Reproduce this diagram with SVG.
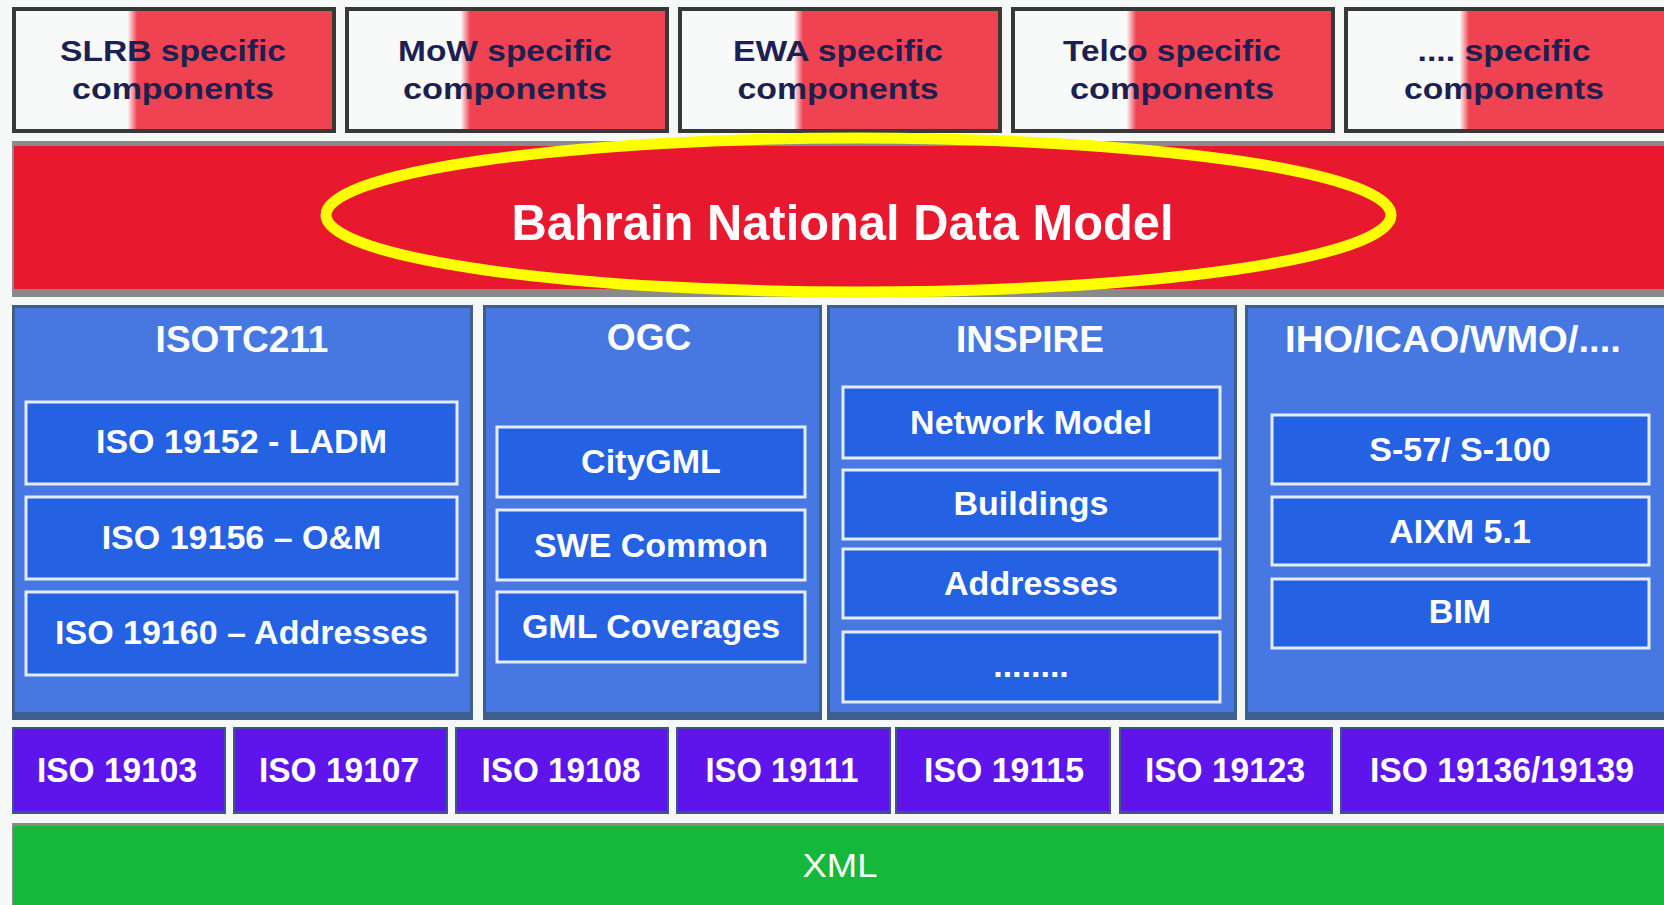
<svg xmlns="http://www.w3.org/2000/svg" width="1664" height="905" viewBox="0 0 1664 905">
<defs>
<linearGradient id="topgrad" x1="0" y1="0" x2="1" y2="0">
<stop offset="0" stop-color="#f8f9f9"/>
<stop offset="0.355" stop-color="#f8f9f9"/>
<stop offset="0.385" stop-color="#f04352"/>
<stop offset="1" stop-color="#f04352"/>
</linearGradient>
<style>
.topbox{fill:url(#topgrad);stroke:#383838;stroke-width:4}
.toptxt{font-family:"Liberation Sans",Arial,sans-serif;font-weight:bold;font-size:29px;fill:#1c1f4f;text-anchor:middle}
.pborder{fill:#3e5f8e}
.pfill{fill:#4778e2}
.ptitle{font-family:"Liberation Sans",Arial,sans-serif;font-weight:bold;font-size:37px;fill:#ffffff;text-anchor:middle}
.sub{fill:#2461e3;stroke:#e4ecf7;stroke-width:3}
.subtxt{font-family:"Liberation Sans",Arial,sans-serif;font-weight:bold;font-size:34px;fill:#ffffff;text-anchor:middle}
.isob{fill:#3f5588}
.isof{fill:#5d15eb}
.isotxt{font-family:"Liberation Sans",Arial,sans-serif;font-weight:bold;font-size:35px;fill:#ffffff;text-anchor:middle}
</style>
</defs>
<rect x="0" y="0" width="1664" height="905" fill="#f6f8f8"/>

<!-- top specific components -->
<g id="slrb">
<rect class="topbox" x="14" y="9" width="320" height="122"/>
<text class="toptxt" x="173" y="61" textLength="226" lengthAdjust="spacingAndGlyphs">SLRB specific</text>
<text class="toptxt" x="173" y="99" textLength="202" lengthAdjust="spacingAndGlyphs">components</text>
</g>
<g id="mow">
<rect class="topbox" x="347" y="9" width="320" height="122"/>
<text class="toptxt" x="505" y="61" textLength="214" lengthAdjust="spacingAndGlyphs">MoW specific</text>
<text class="toptxt" x="505" y="99" textLength="204" lengthAdjust="spacingAndGlyphs">components</text>
</g>
<g id="ewa">
<rect class="topbox" x="680" y="9" width="320" height="122"/>
<text class="toptxt" x="838" y="61" textLength="210" lengthAdjust="spacingAndGlyphs">EWA specific</text>
<text class="toptxt" x="838" y="99" textLength="201" lengthAdjust="spacingAndGlyphs">components</text>
</g>
<g id="telco">
<rect class="topbox" x="1013" y="9" width="320" height="122"/>
<text class="toptxt" x="1172" y="61" textLength="218" lengthAdjust="spacingAndGlyphs">Telco specific</text>
<text class="toptxt" x="1172" y="99" textLength="204" lengthAdjust="spacingAndGlyphs">components</text>
</g>
<g id="other">
<rect class="topbox" x="1346" y="9" width="320" height="122"/>
<text class="toptxt" x="1504" y="61" textLength="173" lengthAdjust="spacingAndGlyphs">.... specific</text>
<text class="toptxt" x="1504" y="99" textLength="200" lengthAdjust="spacingAndGlyphs">components</text>
</g>

<!-- national data model band -->
<g id="bndm">
<rect x="12" y="141" width="1652" height="156" fill="#8a8a8a"/>
<rect x="14" y="146" width="1650" height="143" fill="#e8182f"/>
<ellipse cx="858.5" cy="215" rx="532.5" ry="77" fill="none" stroke="#ffff00" stroke-width="11"/>
<text x="842.6" y="240" font-family="Liberation Sans, Arial, sans-serif" font-weight="bold" font-size="50" fill="#ffffff" text-anchor="middle" textLength="662" lengthAdjust="spacingAndGlyphs">Bahrain National Data Model</text>
</g>

<!-- ISOTC211 -->
<g id="isotc211">
<rect class="pborder" x="12" y="305" width="461" height="415"/>
<rect class="pfill" x="15" y="308" width="455" height="404"/>
<text class="ptitle" x="242" y="352">ISOTC211</text>
<rect class="sub" x="26" y="402" width="431" height="82"/>
<text class="subtxt" x="241.5" y="453">ISO 19152 - LADM</text>
<rect class="sub" x="26" y="497" width="431" height="82"/>
<text class="subtxt" x="241.5" y="549">ISO 19156 – O&amp;M</text>
<rect class="sub" x="26" y="592" width="431" height="83"/>
<text class="subtxt" x="241.5" y="644" textLength="373" lengthAdjust="spacingAndGlyphs">ISO 19160 – Addresses</text>
</g>

<!-- OGC -->
<g id="ogc">
<rect class="pborder" x="483" y="305" width="339" height="415"/>
<rect class="pfill" x="486" y="308" width="333" height="404"/>
<text class="ptitle" x="649" y="350">OGC</text>
<rect class="sub" x="497" y="427" width="308" height="70"/>
<text class="subtxt" x="651" y="473">CityGML</text>
<rect class="sub" x="497" y="510" width="308" height="70"/>
<text class="subtxt" x="651" y="557">SWE Common</text>
<rect class="sub" x="497" y="592" width="308" height="70"/>
<text class="subtxt" x="651" y="638">GML Coverages</text>
</g>

<!-- INSPIRE -->
<g id="inspire">
<rect class="pborder" x="827" y="305" width="410" height="415"/>
<rect class="pfill" x="830" y="308" width="404" height="404"/>
<text class="ptitle" x="1030" y="352">INSPIRE</text>
<rect class="sub" x="843" y="387" width="377" height="71"/>
<text class="subtxt" x="1031" y="434">Network Model</text>
<rect class="sub" x="843" y="470" width="377" height="69"/>
<text class="subtxt" x="1031" y="515">Buildings</text>
<rect class="sub" x="843" y="549" width="377" height="69"/>
<text class="subtxt" x="1031" y="595">Addresses</text>
<rect class="sub" x="843" y="632" width="377" height="70"/>
<text class="subtxt" x="1031" y="677" font-size="32">........</text>
</g>

<!-- IHO/ICAO/WMO -->
<g id="iho">
<rect class="pborder" x="1245" y="305" width="422" height="415"/>
<rect class="pfill" x="1248" y="308" width="419" height="404"/>
<text class="ptitle" x="1453" y="352" textLength="336" lengthAdjust="spacingAndGlyphs">IHO/ICAO/WMO/....</text>
<rect class="sub" x="1272" y="415" width="377" height="69"/>
<text class="subtxt" x="1460" y="461">S-57/ S-100</text>
<rect class="sub" x="1272" y="497" width="377" height="68"/>
<text class="subtxt" x="1460" y="543">AIXM 5.1</text>
<rect class="sub" x="1272" y="579" width="377" height="69"/>
<text class="subtxt" x="1460" y="623">BIM</text>
</g>

<!-- ISO base standards row -->
<g id="iso19103">
<rect class="isob" x="12" y="727" width="214" height="87"/>
<rect class="isof" x="14" y="729" width="210" height="82"/>
<text class="isotxt" x="117" y="782" textLength="160" lengthAdjust="spacingAndGlyphs">ISO 19103</text>
</g>
<g id="iso19107">
<rect class="isob" x="233" y="727" width="215" height="87"/>
<rect class="isof" x="235" y="729" width="211" height="82"/>
<text class="isotxt" x="339" y="782" textLength="160" lengthAdjust="spacingAndGlyphs">ISO 19107</text>
</g>
<g id="iso19108">
<rect class="isob" x="455" y="727" width="214" height="87"/>
<rect class="isof" x="457" y="729" width="210" height="82"/>
<text class="isotxt" x="561" y="782" textLength="159" lengthAdjust="spacingAndGlyphs">ISO 19108</text>
</g>
<g id="iso19111">
<rect class="isob" x="676" y="727" width="215" height="87"/>
<rect class="isof" x="678" y="729" width="211" height="82"/>
<text class="isotxt" x="782" y="782" textLength="153" lengthAdjust="spacingAndGlyphs">ISO 19111</text>
</g>
<g id="iso19115">
<rect class="isob" x="895" y="727" width="216" height="87"/>
<rect class="isof" x="897" y="729" width="212" height="82"/>
<text class="isotxt" x="1004" y="782" textLength="160" lengthAdjust="spacingAndGlyphs">ISO 19115</text>
</g>
<g id="iso19123">
<rect class="isob" x="1119" y="727" width="214" height="87"/>
<rect class="isof" x="1121" y="729" width="210" height="82"/>
<text class="isotxt" x="1225" y="782" textLength="160" lengthAdjust="spacingAndGlyphs">ISO 19123</text>
</g>
<g id="iso19136">
<rect class="isob" x="1340" y="727" width="326" height="87"/>
<rect class="isof" x="1342" y="729" width="324" height="82"/>
<text class="isotxt" x="1502" y="782" textLength="264" lengthAdjust="spacingAndGlyphs">ISO 19136/19139</text>
</g>

<!-- XML -->
<g id="xml">
<rect x="12" y="823" width="1652" height="82" fill="#8a8a8a"/>
<rect x="13" y="826" width="1651" height="79" fill="#16b83b"/>
<text x="840" y="877" font-family="Liberation Sans, Arial, sans-serif" font-size="33" fill="#ffffff" text-anchor="middle" textLength="75" lengthAdjust="spacingAndGlyphs">XML</text>
</g>

<g id="connectors"/>
</svg>
